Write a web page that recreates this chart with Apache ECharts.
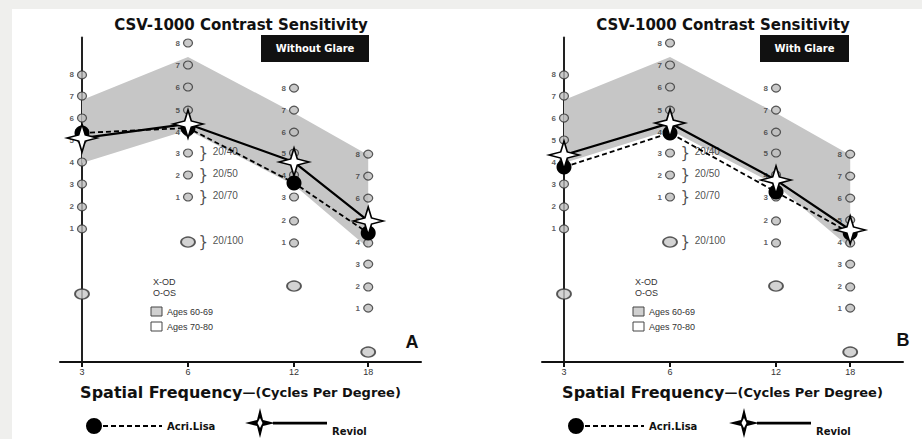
<!DOCTYPE html>
<html>
<head>
<meta charset="utf-8">
<script src="https://cdn.jsdelivr.net/npm/echarts@6/dist/echarts.min.js"></script>
<style>
html, body { margin: 0; padding: 0; background: #efefed; }
#chart { width: 922px; height: 439px; }
</style>
</head>
<body>
<div id="chart"></div>
<script>
// columns of the CSV-1000 chart (cycles per degree)
const freqs = ['3', '6', '12', '18']
const colPos = [0, 1, 2, 2.7]

// height of patch rows 1..8 in each column, in chart rows
const rows3 = [6.05, 7.05, 8.09, 9.09, 10.09, 11.09, 12.09, 13.05]
const rows6 = [7.5, 8.5, 9.5, 10.45, 11.45, 12.5, 13.5, 14.5]
const rows12 = [5.41, 6.41, 7.5, 8.5, 9.5, 10.45, 11.45, 12.45]
const rows18 = [2.45, 3.41, 4.45, 5.41, 6.45, 7.45, 8.45, 9.45]
const samples = [3.09, 5.45, 3.45, 0.45]
const snellen = ['20/40', '20/50', '20/70', '20/100']

// shaded normal range
const bandLow = [9.05, 10.55, 8.05, 5.18]
const bandHigh = [11.91, 13.86, 11.32, 9.41]

// A: without glare, B: with glare
const acriA = [10.41, 10.64, 8.14, 5.86]
const reviolA = [10.18, 10.82, 9.09, 6.41]
const acriB = [8.86, 10.41, 7.73, 5.86]
const reviolB = [9.41, 10.86, 8.27, 6.0]

const star = 'path://M0,-10 L2.2,-2.2 L10,0 L2.2,2.2 L0,10 L-2.2,2.2 L-10,0 L-2.2,-2.2 Z'
const acriIcon = 'path://M0,8 A8,8 0 1,0 16,8 A8,8 0 1,0 0,8 Z M17,7 h5 v2 h-5 Z M25,7 h5 v2 h-5 Z M33,7 h5 v2 h-5 Z M41,7 h5 v2 h-5 Z M49,7 h5 v2 h-5 Z M57,7 h5 v2 h-5 Z M65,7 h5 v2 h-5 Z M73,7 h3 v2 h-3 Z'
const reviolIcon = 'path://M15,0 L18,12 L30,15 L18,18 L15,30 L12,18 L0,15 L12,12 Z M15,10 L12.5,15 L15,20 L17.5,15 Z M28,13.8 L82,13.8 L82,16.4 L28,16.4 Z'

const pairs = arr => arr.map((v, i) => [colPos[i], v])
const cols = [rows3, rows6, rows12, rows18]
const rowPts = cols.flatMap((col, c) => col.map((v, i) => [colPos[c], v, i + 1]))
const samplePts = samples.map((v, i) => [colPos[i], v])
const snellenPts = [
    [colPos[1], rows6[2], snellen[0]],
    [colPos[1], rows6[1], snellen[1]],
    [colPos[1], rows6[0], snellen[2]],
    [colPos[1], samples[1], snellen[3]]
]

function renderBand(params, api) {
    if (params.dataIndex !== 0) return
    const top = bandHigh.map((v, i) => api.coord([colPos[i], v]))
    const bot = bandLow.map((v, i) => api.coord([colPos[i], v])).reverse()
    return { type: 'polygon', shape: { points: top.concat(bot) }, style: { fill: '#c6c6c6' } }
}

function panelSeries(g, acri, reviol) {
    const idx = { xAxisIndex: g, yAxisIndex: g }
    return [
        {
            type: 'custom', ...idx, name: 'norm' + g, data: pairs(bandHigh),
            renderItem: renderBand, silent: true, z: 1
        },
        {
            type: 'scatter', ...idx, name: 'rows' + g, data: rowPts,
            symbol: 'circle', symbolSize: [9, 8],
            itemStyle: { color: '#bdbdbd', borderColor: '#333', borderWidth: 1.2 },
            label: {
                show: true, position: 'left', distance: 3, formatter: p => p.value[2],
                fontSize: 8, fontWeight: 'bold', color: '#333', fontFamily: 'Liberation Sans'
            },
            z: 3
        },
        {
            type: 'scatter', ...idx, name: 'samples' + g, data: samplePts,
            symbol: 'circle', symbolSize: [14, 10],
            itemStyle: { color: '#c8c8c8', borderColor: '#333', borderWidth: 1.6 },
            z: 3
        },
        {
            type: 'scatter', ...idx, name: 'snellen' + g, data: snellenPts,
            symbol: 'circle', symbolSize: 9, itemStyle: { color: 'transparent' },
            label: {
                show: true, position: 'right', distance: 6,
                formatter: p => '} {f|' + p.value[2] + '}',
                fontSize: 15, color: '#222', fontFamily: 'DejaVu Sans',
                rich: { f: { fontSize: 10, color: '#222', fontFamily: 'Liberation Sans', padding: [0, 0, 4, 0] } }
            },
            z: 3
        },
        {
            type: 'line', ...idx, name: 'Acri.Lisa', data: pairs(acri),
            symbol: 'circle', symbolSize: 15,
            itemStyle: { color: '#000' },
            lineStyle: { color: '#000', width: 1.8, type: [5, 3] },
            z: 5
        },
        {
            type: 'line', ...idx, name: 'Reviol', data: pairs(reviol),
            symbol: star, symbolSize: [30, 28],
            itemStyle: { color: '#fff', borderColor: '#000', borderWidth: 1.6 },
            lineStyle: { color: '#000', width: 2.2 },
            z: 6
        }
    ]
}

function xAxisFor(g) {
    return {
        type: 'value', gridIndex: g, min: -0.2075, max: 3.198,
        splitLine: { show: false },
        axisLine: { lineStyle: { color: '#111', width: 2 } },
        axisTick: { customValues: colPos, length: 5, lineStyle: { color: '#111', width: 2 } },
        axisLabel: {
            customValues: colPos, margin: 5, fontSize: 9, color: '#333', fontFamily: 'Liberation Sans',
            formatter: v => freqs[colPos.indexOf(v)]
        },
        name: '{a|Spatial Frequency}{b|—(Cycles Per Degree)}',
        nameLocation: 'middle', nameGap: 22,
        nameTextStyle: {
            rich: {
                a: { fontSize: 16, fontWeight: 'bold', color: '#111', fontFamily: 'DejaVu Sans' },
                b: { fontSize: 13, fontWeight: 'bold', color: '#111', fontFamily: 'DejaVu Sans' }
            }
        }
    }
}

function yAxisFor(g) {
    return {
        type: 'value', gridIndex: g, min: 0, max: 14.75,
        splitLine: { show: false },
        axisLine: { show: true, lineStyle: { color: '#222', width: 2 } },
        axisTick: { show: false },
        axisLabel: { show: false }
    }
}

function legendFor(left, top, name, icon, w, h, drop) {
    return {
        left: left, top: top, padding: 0, selectedMode: false, itemWidth: w, itemHeight: h, itemGap: 4,
        data: [{ name: name, icon: icon, itemStyle: { color: '#000', borderWidth: 0 } }],
        formatter: n => drop ? '\n' + n : n,
        textStyle: { fontSize: 10, fontWeight: 'bold', color: '#111', fontFamily: 'DejaVu Sans', lineHeight: 16 }
    }
}

function panelText(dx, box, boxW, letter) {
    const cx = 241 + dx
    return [
        { type: 'text', x: cx, y: 25, style: { text: 'CSV-1000 Contrast Sensitivity', font: 'bold 15px "DejaVu Sans"', fill: '#111', align: 'center', verticalAlign: 'middle' } },
        { type: 'rect', shape: { x: box, y: 35, width: boxW, height: 27 }, style: { fill: '#111' } },
        { type: 'text', x: box + boxW / 2, y: 48.5, style: { text: dx ? 'With Glare' : 'Without Glare', font: 'bold 10px "DejaVu Sans"', fill: '#fff', align: 'center', verticalAlign: 'middle' } },
        { type: 'text', x: 153 + dx, y: 282, style: { text: 'X-OD', font: '9px "Liberation Sans"', fill: '#333', verticalAlign: 'middle' } },
        { type: 'text', x: 153 + dx, y: 293, style: { text: 'O-OS', font: '9px "Liberation Sans"', fill: '#333', verticalAlign: 'middle' } },
        { type: 'rect', shape: { x: 151 + dx, y: 307, width: 11, height: 9 }, style: { fill: '#d0d0d0', stroke: '#444', lineWidth: 1 } },
        { type: 'text', x: 167 + dx, y: 312, style: { text: 'Ages 60-69', font: '9px "Liberation Sans"', fill: '#333', verticalAlign: 'middle' } },
        { type: 'rect', shape: { x: 151 + dx, y: 322, width: 11, height: 9 }, style: { fill: '#fff', stroke: '#444', lineWidth: 1 } },
        { type: 'text', x: 167 + dx, y: 327, style: { text: 'Ages 70-80', font: '9px "Liberation Sans"', fill: '#333', verticalAlign: 'middle' } },
        { type: 'text', x: letter[0], y: letter[1], style: { text: dx ? 'B' : 'A', font: 'bold 18px "Liberation Sans"', fill: '#111', align: 'center', verticalAlign: 'middle' } }
    ]
}

const chart = echarts.init(document.getElementById('chart'), null, { renderer: 'svg' })
chart.setOption({
    animation: false,
    backgroundColor: '#efefed',
    grid: [
        { left: 60, top: 37.5, width: 361, height: 324.5 },
        { left: 542, top: 37.5, width: 361, height: 324.5 }
    ],
    xAxis: [xAxisFor(0), xAxisFor(1)],
    yAxis: [yAxisFor(0), yAxisFor(1)],
    legend: [
        legendFor(86, 418, 'Acri.Lisa', acriIcon, 76, 16, false),
        legendFor(245, 407, 'Reviol', reviolIcon, 82, 30, true),
        legendFor(568, 418, 'Acri.Lisa', acriIcon, 76, 16, false),
        legendFor(729, 407, 'Reviol', reviolIcon, 82, 30, true)
    ],
    graphic: [
        { type: 'rect', z: -10, shape: { x: 12, y: 9, width: 910, height: 430 }, style: { fill: '#fff' } },
        ...panelText(0, 261, 108, [412, 342]),
        ...panelText(482, 760, 89, [903, 340])
    ],
    series: [...panelSeries(0, acriA, reviolA), ...panelSeries(1, acriB, reviolB)]
})
</script>
</body>
</html>
